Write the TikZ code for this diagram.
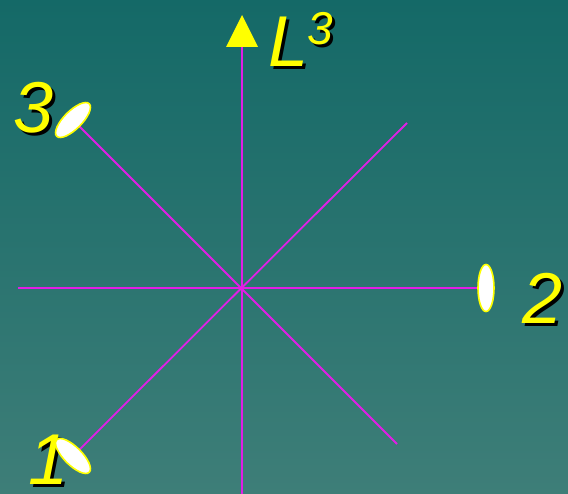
\documentclass[tikz,border=0pt]{standalone}
\usepackage{fontspec}
\setmainfont{Liberation Sans}
\usetikzlibrary{shapes.geometric}
\definecolor{bgtop}{RGB}{20,105,103}
\definecolor{bgbot}{RGB}{62,126,120}
\definecolor{axis}{RGB}{225,30,230}
\definecolor{lab}{RGB}{255,255,0}
\tikzset{
  axisline/.style={draw=axis,line width=1.8pt},
  cup/.style={ellipse,draw=lab,fill=white,line width=1.6pt,inner sep=0pt},
  labtxt/.style={inner sep=0pt,anchor=base west,text=lab,font=\fontsize{72}{72}\selectfont\itshape},
  labshadow/.style={inner sep=0pt,anchor=base west,text=black,font=\fontsize{72}{72}\selectfont\itshape},
}
\begin{document}
\begin{tikzpicture}[x=1pt,y=-1pt]
\useasboundingbox (0,0) rectangle (568,494);
\shade[top color=bgtop,bottom color=bgbot] (0,0) rectangle (568,494);
% coordinates
\coordinate (c) at (242,288);
\coordinate (top) at (242,40);
\coordinate (bot) at (242,494);
\coordinate (left) at (18,288);
\coordinate (ne) at (407,123);
\coordinate (se) at (397,444);
% lines
\draw[axisline] (bot) -- (top);
\draw[axisline] (left) -- (486,288) coordinate (e2c);
\draw[axisline] (73,120) coordinate (e3c) -- (se);
\draw[axisline] (73,456) coordinate (e1c) -- (ne);
% arrow head
\fill[lab] (242,15) -- (258,47) -- (226,47) -- cycle;
% ellipses
\node[cup,minimum width=16pt,minimum height=47pt] (e2) at (e2c) {};
\node[cup,minimum width=46pt,minimum height=18pt,rotate=45] (e3) at (e3c) {};
% labels
\node[labshadow] at (16,136) {3};
\node[labtxt] (l3) at (13,133) {3};
\node[labshadow] at (525,327) {2};
\node[labtxt] (l2) at (522,324) {2};
\node[labshadow] at (271,70) {L};
\node[labtxt] (lL) at (268,67) {L};
\node[labshadow,font=\fontsize{46}{46}\selectfont\itshape] at (310,48) {3};
\node[labtxt,font=\fontsize{46}{46}\selectfont\itshape] (lsup) at (307,45) {3};
\node[labshadow] at (31,487) {1};
\node[labtxt] (l1) at (28,484) {1};
\node[cup,minimum width=46pt,minimum height=18pt,rotate=-45] (e1) at (e1c) {};
\end{tikzpicture}
\end{document}
